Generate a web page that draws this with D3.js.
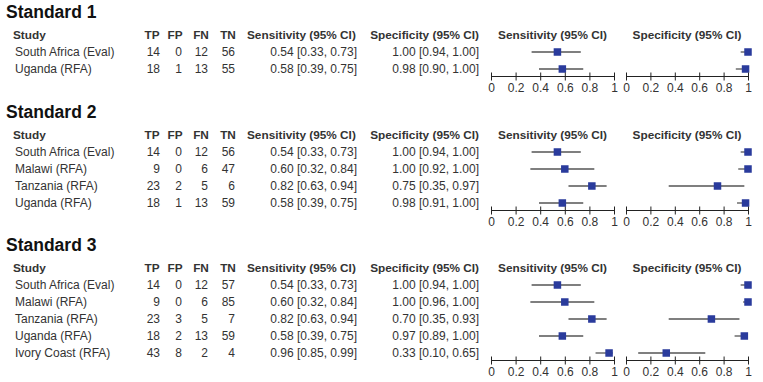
<!DOCTYPE html>
<html><head><meta charset="utf-8">
<script src="https://cdn.jsdelivr.net/npm/d3@7"></script>
<style>
html,body{margin:0;padding:0;background:#fff;}
svg{display:block;font-family:"Liberation Sans",Arial,sans-serif;}
</style></head>
<body><svg id="c" width="763" height="382"></svg>
<script>
const standards = ["Standard 1", "Standard 2", "Standard 3"];
const studies = [
  ["South Africa (Eval)", "Uganda (RFA)"],
  ["South Africa (Eval)", "Malawi (RFA)", "Tanzania (RFA)", "Uganda (RFA)"],
  ["South Africa (Eval)", "Malawi (RFA)", "Tanzania (RFA)", "Uganda (RFA)", "Ivory Coast (RFA)"]
];
const TP = [[14, 18], [14, 9, 23, 18], [14, 9, 23, 18, 43]];
const FP = [[0, 1], [0, 0, 2, 1], [0, 0, 3, 2, 8]];
const FN = [[12, 13], [12, 6, 5, 13], [12, 6, 5, 13, 2]];
const TN = [[56, 55], [56, 47, 6, 59], [57, 85, 7, 59, 4]];
const sens   = [[0.54, 0.58], [0.54, 0.60, 0.82, 0.58], [0.54, 0.60, 0.82, 0.58, 0.96]];
const sensLo = [[0.33, 0.39], [0.33, 0.32, 0.63, 0.39], [0.33, 0.32, 0.63, 0.39, 0.85]];
const sensHi = [[0.73, 0.75], [0.73, 0.84, 0.94, 0.75], [0.73, 0.84, 0.94, 0.75, 0.99]];
const spec   = [[1.00, 0.98], [1.00, 1.00, 0.75, 0.98], [1.00, 1.00, 0.70, 0.97, 0.33]];
const specLo = [[0.94, 0.90], [0.94, 0.92, 0.35, 0.91], [0.94, 0.96, 0.35, 0.89, 0.10]];
const specHi = [[1.00, 1.00], [1.00, 1.00, 0.97, 1.00], [1.00, 1.00, 0.93, 1.00, 0.65]];
const tickValues = [0, 0.2, 0.4, 0.6, 0.8, 1];
const tickLabels = ["0", "0.2", "0.4", "0.6", "0.8", "1"];

const svg = d3.select("#c");
const sectionTitleY = [12, 112, 245];
const headerY = [35, 135, 268];
const rowStep = 17;
const xSens = d3.scaleLinear().domain([0, 1]).range([491, 614]);
const xSpec = d3.scaleLinear().domain([0, 1]).range([626, 748]);
const textCol = "#333";
const markCol = "#2a3b9c";
const f = d => d.toFixed(2);

standards.forEach((title, s) => {
  const g = svg.append("g");
  const n = studies[s].length;
  const y = d3.scaleLinear().domain([0, n]).range([headerY[s], headerY[s] + rowStep * n]);
  g.append("text").attr("x", 6).attr("y", sectionTitleY[s]).attr("dy", "0.35em")
    .attr("font-size", 17.5).attr("font-weight", "bold").attr("fill", "#111").text(title);

  const hdr = [
    {t: "Study", x: 13, a: "start"},
    {t: "TP", x: 152, a: "middle"},
    {t: "FP", x: 175, a: "middle"},
    {t: "FN", x: 201, a: "middle"},
    {t: "TN", x: 228, a: "middle"},
    {t: "Sensitivity (95% CI)", x: 247, a: "start"},
    {t: "Specificity (95% CI)", x: 479, a: "end"},
    {t: "Sensitivity (95% CI)", x: (xSens(0) + xSens(1)) / 2, a: "middle"},
    {t: "Specificity (95% CI)", x: (xSpec(0) + xSpec(1)) / 2, a: "middle"}
  ];
  g.selectAll("text.h").data(hdr).join("text").attr("class", "h")
    .attr("x", d => d.x).attr("y", y(0)).attr("dy", "0.35em")
    .attr("text-anchor", d => d.a).attr("font-size", 11.8).attr("font-weight", "bold")
    .attr("fill", "#333").text(d => d.t);

  const idx = d3.range(n);
  const cols = [
    {x: 15, a: "start", v: i => studies[s][i]},
    {x: 160, a: "end", v: i => TP[s][i]},
    {x: 182, a: "end", v: i => FP[s][i]},
    {x: 208, a: "end", v: i => FN[s][i]},
    {x: 235, a: "end", v: i => TN[s][i]},
    {x: 357, a: "end", v: i => `${f(sens[s][i])} [${f(sensLo[s][i])}, ${f(sensHi[s][i])}]`},
    {x: 479, a: "end", v: i => `${f(spec[s][i])} [${f(specLo[s][i])}, ${f(specHi[s][i])}]`}
  ];
  cols.forEach(c => {
    g.selectAll(null).data(idx).join("text")
      .attr("x", c.x).attr("y", i => y(i + 1)).attr("dy", "0.35em")
      .attr("text-anchor", c.a).attr("font-size", 12).attr("fill", textCol)
      .text(c.v);
  });

  [[xSens, sens, sensLo, sensHi], [xSpec, spec, specLo, specHi]].forEach(([x, v, lo, hi]) => {
    g.selectAll(null).data(idx).join("line")
      .attr("x1", i => x(lo[s][i])).attr("x2", i => x(hi[s][i]))
      .attr("y1", i => y(i + 1)).attr("y2", i => y(i + 1))
      .attr("stroke", "#555").attr("stroke-width", 1.3);
    g.selectAll(null).data(idx).join("rect")
      .attr("x", i => x(v[s][i]) - 3.75).attr("y", i => y(i + 1) - 3.75)
      .attr("width", 7.5).attr("height", 7.5).attr("fill", markCol);
    const axY = y(n) + 7.5;
    const ax = g.append("g").attr("transform", `translate(0,${axY})`)
      .call(d3.axisBottom(x).tickValues(tickValues).tickFormat((d, k) => tickLabels[k]).tickSize(4).tickSizeOuter(0));
    ax.select(".domain").attr("stroke", "#222").attr("d", `M${x(0)},0H${x(1)}`);
    ax.selectAll(".tick line").attr("y1", -4).attr("y2", 4).attr("stroke", "#222");
    ax.selectAll(".tick text").attr("y", 7).attr("font-size", 12)
      .attr("font-family", "'Liberation Sans',Arial,sans-serif").attr("fill", textCol);
  });
});
</script></body></html>
